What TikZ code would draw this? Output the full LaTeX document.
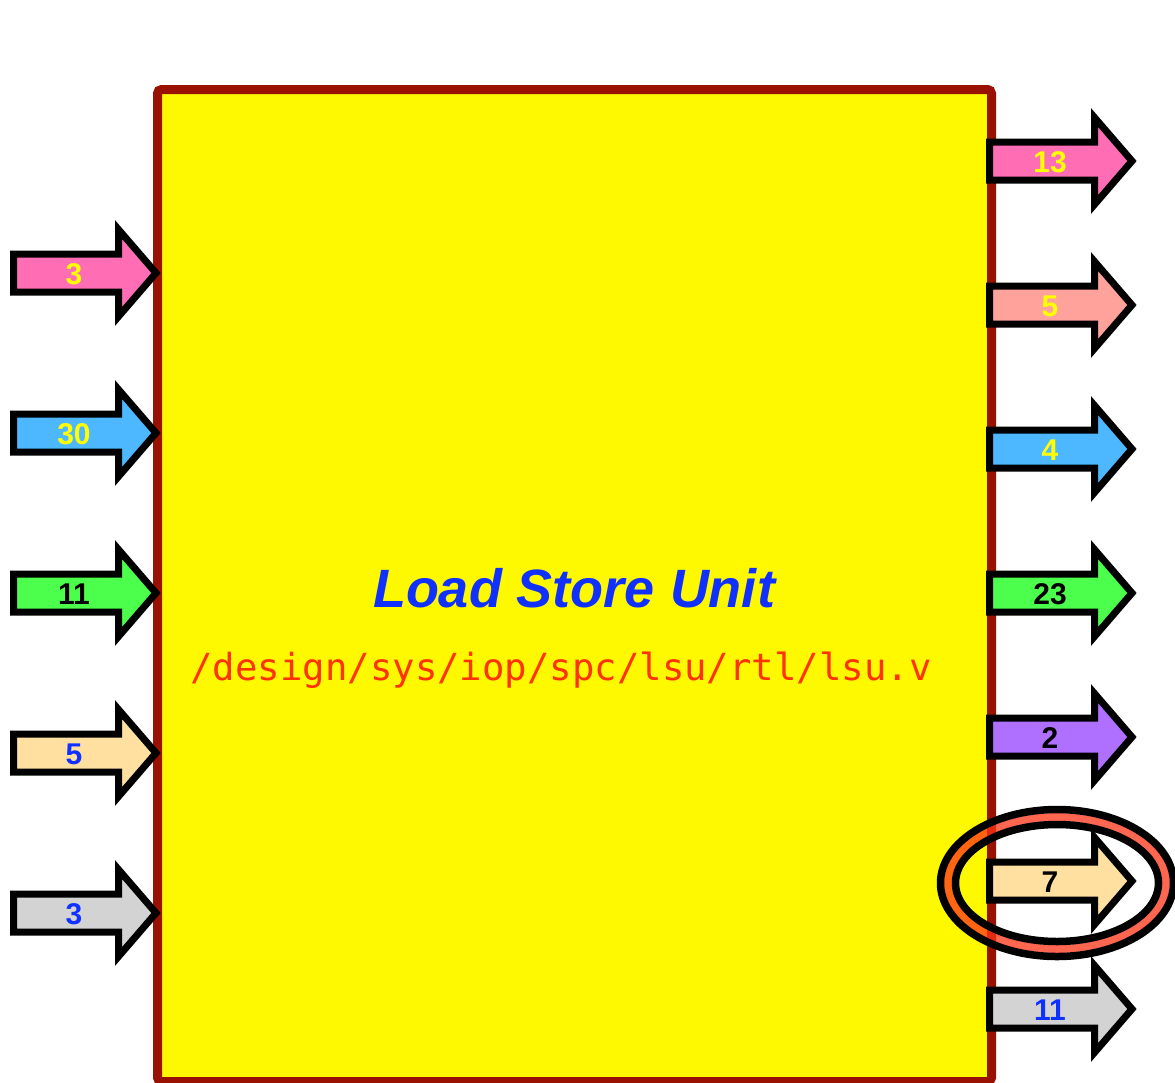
\documentclass[tikz,border=0pt]{standalone}
\usepackage{fontspec}
\setmainfont{Liberation Sans}
\setmonofont{DejaVu Sans Mono}
\usetikzlibrary{shapes.geometric}

\definecolor{boxborder}{HTML}{991100}
\definecolor{boxfill}{HTML}{FFF900}
\definecolor{titleblue}{HTML}{1030FF}
\definecolor{pathred}{HTML}{FF3300}
\definecolor{lblyellow}{HTML}{FFFF00}
\definecolor{lblblue}{HTML}{1030FF}
\definecolor{cpink}{HTML}{FF6EB4}
\definecolor{cblue}{HTML}{4DB8FF}
\definecolor{cgreen}{HTML}{4DFF4D}
\definecolor{corange}{HTML}{FFE0A0}
\definecolor{cgrey}{HTML}{D3D3D3}
\definecolor{csalmon}{HTML}{FFA29C}
\definecolor{cpurple}{HTML}{B070FF}
\definecolor{ringred}{HTML}{FF3316}

\tikzset{
  unitbox/.style={draw=boxborder, fill=boxfill, line width=9pt, rounded corners=4pt},
  portline/.style={draw=black, line width=7pt, line join=miter},
  portlabel/.style={font=\fontsize{30}{30}\selectfont\bfseries, inner sep=0pt},
  ringedge/.style={draw=black, line width=7.5pt},
}

% #1 name, #2 left x, #3 centre y, #4 fill, #5 label colour, #6 label
\newcommand{\portarrow}[6]{%
  \draw[portline, fill=#4]
    (#2+3.5,#3-19) -- (#2+108.5,#3-19) -- (#2+108.5,#3-43.5) -- (#2+146,#3)
    -- (#2+108.5,#3+43.5) -- (#2+108.5,#3+19) -- (#2+3.5,#3+19) -- cycle;
  \node[portlabel, text=#5] (#1) at (#2+64,#3+1) {#6};
}

\begin{document}
\begin{tikzpicture}[x=1pt, y=-1pt]
  \useasboundingbox (0,0) rectangle (1175,1082);

  % the unit itself
  \draw[unitbox] (157.5,89.5) rectangle (991.5,1081.5);

  \node[font=\fontsize{54}{54}\selectfont\bfseries\itshape, text=titleblue, inner sep=0pt]
    (title) at (574,588) {Load Store Unit};
  \node[font=\fontsize{37.3}{37.3}\ttfamily, text=pathred, inner sep=0pt, anchor=base]
    (path) at (561,680) {/design/sys/iop/spc/lsu/rtl/lsu.v};

  % inputs
  \portarrow{in1}{10}{273}{cpink}{lblyellow}{3}
  \portarrow{in2}{10}{433}{cblue}{lblyellow}{30}
  \portarrow{in3}{10}{593}{cgreen}{black}{11}
  \portarrow{in4}{10}{753}{corange}{lblblue}{5}
  \portarrow{in5}{10}{913}{cgrey}{lblblue}{3}

  % outputs
  \portarrow{out1}{986}{161}{cpink}{lblyellow}{13}
  \portarrow{out2}{986}{305}{csalmon}{lblyellow}{5}
  \portarrow{out3}{986}{449}{cblue}{lblyellow}{4}
  \portarrow{out4}{986}{593}{cgreen}{black}{23}
  \portarrow{out5}{986}{737}{cpurple}{black}{2}
  \portarrow{out6}{986}{881}{corange}{black}{7}
  \portarrow{out7}{986}{1009}{cgrey}{lblblue}{11}

  % highlight ring around one output: translucent red band edged in black
  \node[ellipse, draw=ringred, draw opacity=0.75, line width=8pt,
        minimum width=218pt, minimum height=132pt, inner sep=0pt]
    (ring) at (1057,883) {};
  \draw[ringedge] (ring.center) ellipse [x radius=116.5, y radius=73.5];
  \draw[ringedge] (ring.center) ellipse [x radius=101.5, y radius=58.5];
\end{tikzpicture}
\end{document}
